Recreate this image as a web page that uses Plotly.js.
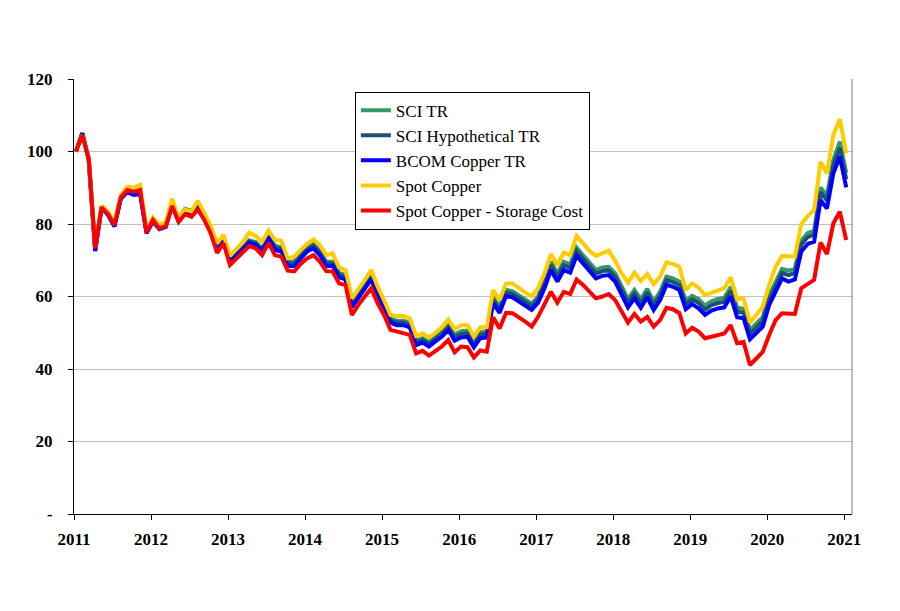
<!DOCTYPE html>
<html>
<head>
<meta charset="utf-8">
<script src="https://cdn.plot.ly/plotly-3.0.1.min.js"></script>
<style>html,body{margin:0;padding:0;background:#fff;}#chart{width:900px;height:611px;}</style>
</head>
<body>
<div id="chart"></div>
<script>
// Monthly index values, Jan 2011 (=100) to Jan 2021
const startYear = 2011;
const seriesNames = ["SCI TR", "SCI Hypothetical TR", "BCOM Copper TR", "Spot Copper", "Spot Copper - Storage Cost"];

const sciTR = [100,104.8,97.9,73.0,85.0,83.0,79.8,87.5,89.3,88.5,88.8,78.1,81.4,79.3,79.9,85.9,81.4,84.2,83.7,85.2,82.2,78.7,73.2,76.2,70.2,72.2,73.7,75.5,75.0,73.2,77.1,
74.0,73.6,69.6,69.6,71.7,73.6,74.5,72.6,69.6,69.6,66.5,65.9,58.2,60.7,63.2,65.9,61.6,57.9,54.0,53.3,53.3,52.7,47.8,48.5,47.4,48.8,50.1,52.0,49.5,
50.4,50.6,47.7,50.2,50.4,59.8,57.2,61.8,61.5,60.3,59.1,58.0,60.0,64.6,69.6,66.4,69.6,68.9,73.5,71.4,69.4,67.3,68.0,68.2,66.4,63.0,59.3,61.8,59.2,62.1,
58.6,61.3,65.5,65.0,64.1,58.8,60.2,59.3,57.5,58.7,59.3,59.6,62.6,56.9,56.6,50.8,52.4,54.3,60.3,64.2,67.6,67.1,67.7,75.4,77.5,78.1,90.1,87.8,97.7,102.7,94.1];

const sciHypTR = [100,105.1,97.7,72.7,84.7,82.7,79.5,87.2,89.0,88.2,88.5,77.8,81.1,79.0,79.6,85.6,81.1,83.9,83.4,84.9,81.9,78.4,72.9,75.9,69.9,71.9,73.4,75.2,74.7,72.9,76.7,
73.5,73.1,69.1,69.1,71.2,73.1,74.0,72.1,69.1,69.1,66.0,65.4,57.7,60.2,62.7,65.4,61.1,57.4,53.5,52.8,52.8,52.2,47.3,48.0,46.9,48.3,49.6,51.5,48.8,
49.7,49.9,47.0,49.5,49.7,59.1,56.5,61.1,60.8,59.6,58.4,57.3,59.3,63.6,68.6,65.4,68.6,67.9,72.5,70.4,68.4,66.3,67.0,67.2,65.4,62.0,58.3,60.8,58.2,61.1,
57.6,60.3,64.5,64.0,63.1,57.8,59.2,58.2,56.4,57.6,58.2,58.5,61.5,55.8,55.5,49.7,51.3,53.2,59.2,63.1,66.5,65.9,66.5,74.3,76.4,77.1,88.8,86.5,96.3,101.0,92.4];

const bcomCopperTR = [100,105.0,97.5,72.5,84.5,82.5,79.3,87.0,88.8,88.0,88.3,77.4,80.7,78.6,79.2,85.2,80.7,83.5,83.0,84.5,81.5,78.0,72.5,75.5,69.5,71.5,73.0,74.8,74.3,72.5,76.3,
72.8,72.4,68.4,68.4,70.5,72.4,73.3,71.4,68.4,68.4,65.3,64.7,57.0,59.5,62.0,64.7,60.4,56.7,52.8,52.1,52.1,51.5,46.6,47.3,46.2,47.6,48.9,50.8,47.8,
48.7,48.9,46.0,48.5,48.7,58.1,55.5,60.1,59.8,58.6,57.4,56.3,58.3,62.3,67.3,64.1,67.3,66.6,71.2,69.1,67.1,65.0,65.7,65.9,64.1,60.7,57.0,59.5,56.9,59.8,
56.3,59.0,63.2,62.7,61.8,56.5,57.9,56.7,54.9,56.1,56.7,57.0,60.0,54.3,54.0,48.2,49.8,51.7,57.7,61.6,65.0,64.1,64.7,72.4,74.5,75.1,86.6,84.3,94.0,98.6,90.1];

const spotCopper = [100,104.5,98.0,73.5,85.0,83.5,80.5,88.0,90.3,90.0,90.8,78.5,81.8,79.8,80.5,87.0,81.5,84.0,83.5,86.4,83.0,79.4,74.7,77.0,71.2,73.0,75.0,77.6,76.7,75.1,78.2,
75.6,75.4,70.5,71.0,72.8,74.5,75.8,74.2,71.4,71.9,68.0,67.3,59.5,62.3,64.6,67.3,62.7,59.0,54.9,54.6,54.6,54.0,49.1,49.8,48.7,50.0,51.5,53.7,51.0,
52.1,52.1,48.9,51.5,51.5,61.8,59.0,63.6,63.6,62.3,61.1,60.1,62.3,66.4,71.7,68.7,72.1,71.4,76.7,74.7,72.6,71.2,71.9,72.6,69.9,66.4,63.8,66.6,64.3,66.2,
63.4,65.5,69.4,69.0,68.2,61.8,63.6,62.5,60.4,61.1,61.6,62.3,65.3,59.2,59.5,52.8,54.9,57.2,63.2,68.2,71.2,71.0,71.0,80.0,82.2,83.9,97.2,94.0,104.6,108.9,99.5];

const spotLessStorage = [100,104.5,98.0,73.3,84.6,82.8,79.7,87.4,89.4,88.9,89.4,77.6,81.1,78.8,79.4,85.0,80.6,82.7,82.0,84.0,81.1,77.4,72.0,74.7,68.7,70.5,72.0,73.9,73.3,71.4,74.8,
71.4,71.0,67.1,66.9,69.0,70.5,71.4,69.6,67.0,66.9,63.6,63.2,54.9,57.7,60.0,62.3,58.1,54.9,50.8,50.3,50.0,49.4,44.3,45.0,43.7,45.1,46.2,48.0,44.6,
46.2,46.0,43.2,45.1,44.8,54.3,51.2,55.5,55.4,54.3,53.1,51.7,54.4,57.9,61.3,58.3,61.3,60.7,64.7,63.2,61.3,59.5,60.0,60.7,59.0,56.1,52.8,55.2,53.1,54.4,
51.7,53.5,56.9,56.5,55.4,49.8,51.4,50.3,48.5,48.9,49.4,49.8,52.1,47.1,47.5,41.1,42.9,44.7,49.4,53.5,55.4,55.4,55.2,62.3,63.4,64.6,74.9,71.7,80.2,83.4,75.6];

const yearTicks = [2011,2012,2013,2014,2015,2016,2017,2018,2019,2020,2021];
const yTickVals = [0,20,40,60,80,100,120];
const yTickText = ["-","20","40","60","80","100","120"];

// month positions (fraction of year) for each observation
const xMonths = sciTR.map((_, i) => startYear + (i + 0.3) / 12);

const colors = ["#339966", "#1f4e79", "#0000ff", "#ffcc00", "#ff0000"];
const allSeries = [sciTR, sciHypTR, bcomCopperTR, spotCopper, spotLessStorage];

const traces = allSeries.map((vals, k) => ({
  type: "scatter",
  mode: "lines",
  name: seriesNames[k],
  legendgroup: "g" + k,
  x: xMonths,
  y: vals,
  line: {color: colors[k], width: 4, shape: "linear"},
  hoverinfo: "skip"
}));

const font = {family: "'Liberation Serif', 'Times New Roman', serif", color: "#000"};

const layout = {
  width: 900, height: 611,
  paper_bgcolor: "#fff", plot_bgcolor: "#fff",
  margin: {l: 74, r: 48, t: 79, b: 97, pad: 0},
  showlegend: true,
  legend: {
    x: 0.361, y: 0.971, xanchor: "left", yanchor: "top",
    bgcolor: "#fff", bordercolor: "#000", borderwidth: 1,
    font: Object.assign({size: 17}, font),
    traceorder: "grouped", tracegroupgap: 0,
    itemwidth: 30
  },
  xaxis: {
    range: [2011, 2021.1],
    tickvals: yearTicks,
    ticktext: yearTicks.map(String),
    ticks: "outside", ticklen: 5, tickcolor: "#000", tickwidth: 1,
    showline: true, linecolor: "#000", linewidth: 1,
    showgrid: false, zeroline: false,
    tickfont: Object.assign({size: 17, weight: "bold"}, font),
    ticklabelstandoff: 5
  },
  yaxis: {
    range: [0, 120],
    tickvals: yTickVals,
    ticktext: yTickText,
    ticks: "outside", ticklen: 5, tickcolor: "#000", tickwidth: 1,
    showline: true, linecolor: "#000", linewidth: 1,
    showgrid: true, gridcolor: "#c0c0c0", gridwidth: 1,
    zeroline: false,
    tickfont: Object.assign({size: 17, weight: "bold"}, font),
    ticklabelstandoff: 12
  },
  shapes: [
    {type: "line", xref: "paper", yref: "paper", x0: 1, x1: 1, y0: 0, y1: 1,
     line: {color: "#808080", width: 1}}
  ]
};

Plotly.newPlot("chart", traces, layout, {staticPlot: true, displayModeBar: false});
</script>
</body>
</html>
